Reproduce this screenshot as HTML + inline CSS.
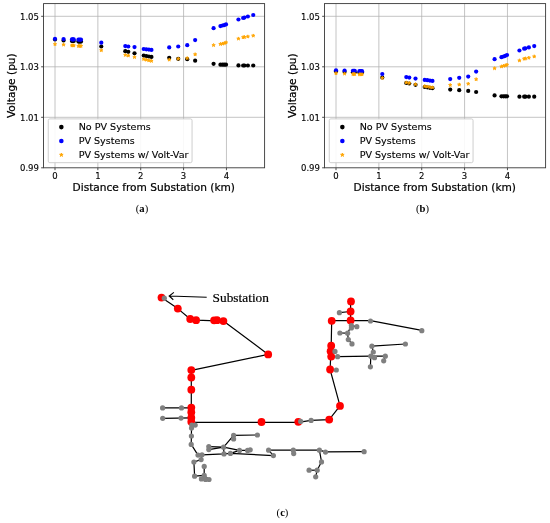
<!DOCTYPE html>
<html><head><meta charset="utf-8"><title>Figure</title>
<style>
html,body{margin:0;padding:0;background:#fff}
svg{display:block}
text{font-family:"DejaVu Sans","Liberation Sans",sans-serif;fill:#000;stroke:#000;stroke-width:0.12px}
.lab{stroke-width:0.22px}
.cap{stroke:none;font-family:"Liberation Serif","DejaVu Serif",serif;font-size:10.6px}
.cap tspan{font-weight:bold}
.sub{font-family:"Liberation Serif","DejaVu Serif",serif;font-size:13.35px;stroke:#000;stroke-width:0.2px}
</style></head><body>
<svg width="550" height="523" viewBox="0 0 550 523">
<rect width="550" height="523" fill="#fff"/>
<g id="plot-a">
<line x1="55.00" y1="3.60" x2="55.00" y2="167.80" stroke="#b0b0b0" stroke-width="0.75"/>
<line x1="97.86" y1="3.60" x2="97.86" y2="167.80" stroke="#b0b0b0" stroke-width="0.75"/>
<line x1="140.72" y1="3.60" x2="140.72" y2="167.80" stroke="#b0b0b0" stroke-width="0.75"/>
<line x1="183.58" y1="3.60" x2="183.58" y2="167.80" stroke="#b0b0b0" stroke-width="0.75"/>
<line x1="226.44" y1="3.60" x2="226.44" y2="167.80" stroke="#b0b0b0" stroke-width="0.75"/>
<line x1="43.55" y1="16.30" x2="264.60" y2="16.30" stroke="#b0b0b0" stroke-width="0.75"/>
<line x1="43.55" y1="66.80" x2="264.60" y2="66.80" stroke="#b0b0b0" stroke-width="0.75"/>
<line x1="43.55" y1="117.30" x2="264.60" y2="117.30" stroke="#b0b0b0" stroke-width="0.75"/>
<circle cx="55.00" cy="39.50" r="2.1" fill="#000"/>
<circle cx="63.57" cy="40.40" r="2.1" fill="#000"/>
<circle cx="71.93" cy="41.00" r="2.1" fill="#000"/>
<circle cx="72.83" cy="41.00" r="2.1" fill="#000"/>
<circle cx="73.73" cy="41.00" r="2.1" fill="#000"/>
<circle cx="78.44" cy="41.60" r="2.1" fill="#000"/>
<circle cx="79.73" cy="41.60" r="2.1" fill="#000"/>
<circle cx="81.02" cy="41.60" r="2.1" fill="#000"/>
<circle cx="101.29" cy="46.50" r="2.1" fill="#000"/>
<circle cx="125.29" cy="51.20" r="2.1" fill="#000"/>
<circle cx="128.29" cy="51.80" r="2.1" fill="#000"/>
<circle cx="134.51" cy="53.30" r="2.1" fill="#000"/>
<circle cx="143.72" cy="55.60" r="2.1" fill="#000"/>
<circle cx="146.29" cy="56.00" r="2.1" fill="#000"/>
<circle cx="148.86" cy="56.50" r="2.1" fill="#000"/>
<circle cx="151.44" cy="56.90" r="2.1" fill="#000"/>
<circle cx="169.22" cy="57.80" r="2.1" fill="#000"/>
<circle cx="178.22" cy="58.80" r="2.1" fill="#000"/>
<circle cx="187.22" cy="59.20" r="2.1" fill="#000"/>
<circle cx="195.15" cy="60.70" r="2.1" fill="#000"/>
<circle cx="213.58" cy="63.80" r="2.1" fill="#000"/>
<circle cx="220.44" cy="64.70" r="2.1" fill="#000"/>
<circle cx="222.58" cy="64.70" r="2.1" fill="#000"/>
<circle cx="224.30" cy="64.70" r="2.1" fill="#000"/>
<circle cx="226.01" cy="64.70" r="2.1" fill="#000"/>
<circle cx="238.44" cy="65.40" r="2.1" fill="#000"/>
<circle cx="243.16" cy="65.50" r="2.1" fill="#000"/>
<circle cx="244.44" cy="65.50" r="2.1" fill="#000"/>
<circle cx="247.87" cy="65.50" r="2.1" fill="#000"/>
<circle cx="253.23" cy="65.50" r="2.1" fill="#000"/>
<circle cx="55.00" cy="38.80" r="2.1" fill="#0000ff"/>
<circle cx="63.57" cy="39.10" r="2.1" fill="#0000ff"/>
<circle cx="71.93" cy="39.40" r="2.1" fill="#0000ff"/>
<circle cx="72.83" cy="39.40" r="2.1" fill="#0000ff"/>
<circle cx="73.73" cy="39.40" r="2.1" fill="#0000ff"/>
<circle cx="78.44" cy="39.70" r="2.1" fill="#0000ff"/>
<circle cx="79.73" cy="39.70" r="2.1" fill="#0000ff"/>
<circle cx="81.02" cy="39.70" r="2.1" fill="#0000ff"/>
<circle cx="101.29" cy="42.70" r="2.1" fill="#0000ff"/>
<circle cx="125.29" cy="46.10" r="2.1" fill="#0000ff"/>
<circle cx="128.29" cy="46.50" r="2.1" fill="#0000ff"/>
<circle cx="134.51" cy="47.10" r="2.1" fill="#0000ff"/>
<circle cx="143.72" cy="49.00" r="2.1" fill="#0000ff"/>
<circle cx="146.29" cy="49.30" r="2.1" fill="#0000ff"/>
<circle cx="148.86" cy="49.60" r="2.1" fill="#0000ff"/>
<circle cx="151.44" cy="49.90" r="2.1" fill="#0000ff"/>
<circle cx="169.22" cy="47.40" r="2.1" fill="#0000ff"/>
<circle cx="178.22" cy="46.50" r="2.1" fill="#0000ff"/>
<circle cx="187.22" cy="45.20" r="2.1" fill="#0000ff"/>
<circle cx="195.15" cy="40.10" r="2.1" fill="#0000ff"/>
<circle cx="213.58" cy="28.20" r="2.1" fill="#0000ff"/>
<circle cx="220.44" cy="26.10" r="2.1" fill="#0000ff"/>
<circle cx="222.58" cy="25.50" r="2.1" fill="#0000ff"/>
<circle cx="224.30" cy="25.10" r="2.1" fill="#0000ff"/>
<circle cx="226.01" cy="24.40" r="2.1" fill="#0000ff"/>
<circle cx="238.44" cy="19.50" r="2.1" fill="#0000ff"/>
<circle cx="243.16" cy="18.00" r="2.1" fill="#0000ff"/>
<circle cx="244.44" cy="17.60" r="2.1" fill="#0000ff"/>
<circle cx="247.87" cy="16.50" r="2.1" fill="#0000ff"/>
<circle cx="253.23" cy="15.00" r="2.1" fill="#0000ff"/>
<polygon points="55.00,42.45 55.39,43.66 56.66,43.66 55.64,44.41 56.03,45.62 55.00,44.87 53.97,45.62 54.36,44.41 53.34,43.66 54.61,43.66" fill="#ffa500" stroke="#ffa500" stroke-width="0.8" stroke-linejoin="round"/>
<polygon points="63.57,42.95 63.96,44.16 65.24,44.16 64.21,44.91 64.60,46.12 63.57,45.37 62.54,46.12 62.94,44.91 61.91,44.16 63.18,44.16" fill="#ffa500" stroke="#ffa500" stroke-width="0.8" stroke-linejoin="round"/>
<polygon points="71.93,43.75 72.32,44.96 73.59,44.96 72.57,45.71 72.96,46.92 71.93,46.17 70.90,46.92 71.29,45.71 70.27,44.96 71.54,44.96" fill="#ffa500" stroke="#ffa500" stroke-width="0.8" stroke-linejoin="round"/>
<polygon points="72.83,43.75 73.22,44.96 74.49,44.96 73.47,45.71 73.86,46.92 72.83,46.17 71.80,46.92 72.19,45.71 71.17,44.96 72.44,44.96" fill="#ffa500" stroke="#ffa500" stroke-width="0.8" stroke-linejoin="round"/>
<polygon points="73.73,43.75 74.12,44.96 75.39,44.96 74.37,45.71 74.76,46.92 73.73,46.17 72.70,46.92 73.09,45.71 72.07,44.96 73.34,44.96" fill="#ffa500" stroke="#ffa500" stroke-width="0.8" stroke-linejoin="round"/>
<polygon points="78.44,44.25 78.84,45.46 80.11,45.46 79.08,46.21 79.47,47.42 78.44,46.67 77.42,47.42 77.81,46.21 76.78,45.46 78.05,45.46" fill="#ffa500" stroke="#ffa500" stroke-width="0.8" stroke-linejoin="round"/>
<polygon points="79.73,44.25 80.12,45.46 81.39,45.46 80.37,46.21 80.76,47.42 79.73,46.67 78.70,47.42 79.09,46.21 78.07,45.46 79.34,45.46" fill="#ffa500" stroke="#ffa500" stroke-width="0.8" stroke-linejoin="round"/>
<polygon points="81.02,44.25 81.41,45.46 82.68,45.46 81.65,46.21 82.04,47.42 81.02,46.67 79.99,47.42 80.38,46.21 79.35,45.46 80.62,45.46" fill="#ffa500" stroke="#ffa500" stroke-width="0.8" stroke-linejoin="round"/>
<polygon points="101.29,48.55 101.68,49.76 102.95,49.76 101.92,50.51 102.32,51.72 101.29,50.97 100.26,51.72 100.65,50.51 99.62,49.76 100.90,49.76" fill="#ffa500" stroke="#ffa500" stroke-width="0.8" stroke-linejoin="round"/>
<polygon points="125.29,53.25 125.68,54.46 126.95,54.46 125.93,55.21 126.32,56.42 125.29,55.67 124.26,56.42 124.65,55.21 123.63,54.46 124.90,54.46" fill="#ffa500" stroke="#ffa500" stroke-width="0.8" stroke-linejoin="round"/>
<polygon points="128.29,53.85 128.68,55.06 129.95,55.06 128.93,55.81 129.32,57.02 128.29,56.27 127.26,57.02 127.65,55.81 126.63,55.06 127.90,55.06" fill="#ffa500" stroke="#ffa500" stroke-width="0.8" stroke-linejoin="round"/>
<polygon points="134.51,55.45 134.90,56.66 136.17,56.66 135.14,57.41 135.53,58.62 134.51,57.87 133.48,58.62 133.87,57.41 132.84,56.66 134.11,56.66" fill="#ffa500" stroke="#ffa500" stroke-width="0.8" stroke-linejoin="round"/>
<polygon points="143.72,57.45 144.11,58.66 145.38,58.66 144.36,59.41 144.75,60.62 143.72,59.87 142.69,60.62 143.08,59.41 142.06,58.66 143.33,58.66" fill="#ffa500" stroke="#ffa500" stroke-width="0.8" stroke-linejoin="round"/>
<polygon points="146.29,58.05 146.68,59.26 147.96,59.26 146.93,60.01 147.32,61.22 146.29,60.47 145.26,61.22 145.66,60.01 144.63,59.26 145.90,59.26" fill="#ffa500" stroke="#ffa500" stroke-width="0.8" stroke-linejoin="round"/>
<polygon points="148.86,58.65 149.26,59.86 150.53,59.86 149.50,60.61 149.89,61.82 148.86,61.07 147.83,61.82 148.23,60.61 147.20,59.86 148.47,59.86" fill="#ffa500" stroke="#ffa500" stroke-width="0.8" stroke-linejoin="round"/>
<polygon points="151.44,59.25 151.83,60.46 153.10,60.46 152.07,61.21 152.46,62.42 151.44,61.67 150.41,62.42 150.80,61.21 149.77,60.46 151.04,60.46" fill="#ffa500" stroke="#ffa500" stroke-width="0.8" stroke-linejoin="round"/>
<polygon points="169.22,57.95 169.61,59.16 170.89,59.16 169.86,59.91 170.25,61.12 169.22,60.37 168.19,61.12 168.59,59.91 167.56,59.16 168.83,59.16" fill="#ffa500" stroke="#ffa500" stroke-width="0.8" stroke-linejoin="round"/>
<polygon points="178.22,57.05 178.62,58.26 179.89,58.26 178.86,59.01 179.25,60.22 178.22,59.47 177.19,60.22 177.59,59.01 176.56,58.26 177.83,58.26" fill="#ffa500" stroke="#ffa500" stroke-width="0.8" stroke-linejoin="round"/>
<polygon points="187.22,56.45 187.62,57.66 188.89,57.66 187.86,58.41 188.25,59.62 187.22,58.87 186.19,59.62 186.59,58.41 185.56,57.66 186.83,57.66" fill="#ffa500" stroke="#ffa500" stroke-width="0.8" stroke-linejoin="round"/>
<polygon points="195.15,52.65 195.55,53.86 196.82,53.86 195.79,54.61 196.18,55.82 195.15,55.07 194.12,55.82 194.52,54.61 193.49,53.86 194.76,53.86" fill="#ffa500" stroke="#ffa500" stroke-width="0.8" stroke-linejoin="round"/>
<polygon points="213.58,43.45 213.97,44.66 215.25,44.66 214.22,45.41 214.61,46.62 213.58,45.87 212.55,46.62 212.95,45.41 211.92,44.66 213.19,44.66" fill="#ffa500" stroke="#ffa500" stroke-width="0.8" stroke-linejoin="round"/>
<polygon points="220.44,42.35 220.83,43.56 222.10,43.56 221.08,44.31 221.47,45.52 220.44,44.77 219.41,45.52 219.80,44.31 218.78,43.56 220.05,43.56" fill="#ffa500" stroke="#ffa500" stroke-width="0.8" stroke-linejoin="round"/>
<polygon points="222.58,41.95 222.98,43.16 224.25,43.16 223.22,43.91 223.61,45.12 222.58,44.37 221.55,45.12 221.95,43.91 220.92,43.16 222.19,43.16" fill="#ffa500" stroke="#ffa500" stroke-width="0.8" stroke-linejoin="round"/>
<polygon points="224.30,41.55 224.69,42.76 225.96,42.76 224.93,43.51 225.33,44.72 224.30,43.97 223.27,44.72 223.66,43.51 222.63,42.76 223.90,42.76" fill="#ffa500" stroke="#ffa500" stroke-width="0.8" stroke-linejoin="round"/>
<polygon points="226.01,40.75 226.40,41.96 227.68,41.96 226.65,42.71 227.04,43.92 226.01,43.17 224.98,43.92 225.38,42.71 224.35,41.96 225.62,41.96" fill="#ffa500" stroke="#ffa500" stroke-width="0.8" stroke-linejoin="round"/>
<polygon points="238.44,36.95 238.83,38.16 240.11,38.16 239.08,38.91 239.47,40.12 238.44,39.37 237.41,40.12 237.81,38.91 236.78,38.16 238.05,38.16" fill="#ffa500" stroke="#ffa500" stroke-width="0.8" stroke-linejoin="round"/>
<polygon points="243.16,35.55 243.55,36.76 244.82,36.76 243.79,37.51 244.18,38.72 243.16,37.97 242.13,38.72 242.52,37.51 241.49,36.76 242.76,36.76" fill="#ffa500" stroke="#ffa500" stroke-width="0.8" stroke-linejoin="round"/>
<polygon points="244.44,35.35 244.83,36.56 246.11,36.56 245.08,37.31 245.47,38.52 244.44,37.77 243.41,38.52 243.81,37.31 242.78,36.56 244.05,36.56" fill="#ffa500" stroke="#ffa500" stroke-width="0.8" stroke-linejoin="round"/>
<polygon points="247.87,34.85 248.26,36.06 249.53,36.06 248.51,36.81 248.90,38.02 247.87,37.27 246.84,38.02 247.23,36.81 246.21,36.06 247.48,36.06" fill="#ffa500" stroke="#ffa500" stroke-width="0.8" stroke-linejoin="round"/>
<polygon points="253.23,33.95 253.62,35.16 254.89,35.16 253.86,35.91 254.26,37.12 253.23,36.37 252.20,37.12 252.59,35.91 251.56,35.16 252.83,35.16" fill="#ffa500" stroke="#ffa500" stroke-width="0.8" stroke-linejoin="round"/>
<line x1="55.00" y1="167.80" x2="55.00" y2="170.20" stroke="#000" stroke-width="0.7"/>
<text x="55.00" y="179.40" text-anchor="middle" font-size="8.5">0</text>
<line x1="97.86" y1="167.80" x2="97.86" y2="170.20" stroke="#000" stroke-width="0.7"/>
<text x="97.86" y="179.40" text-anchor="middle" font-size="8.5">1</text>
<line x1="140.72" y1="167.80" x2="140.72" y2="170.20" stroke="#000" stroke-width="0.7"/>
<text x="140.72" y="179.40" text-anchor="middle" font-size="8.5">2</text>
<line x1="183.58" y1="167.80" x2="183.58" y2="170.20" stroke="#000" stroke-width="0.7"/>
<text x="183.58" y="179.40" text-anchor="middle" font-size="8.5">3</text>
<line x1="226.44" y1="167.80" x2="226.44" y2="170.20" stroke="#000" stroke-width="0.7"/>
<text x="226.44" y="179.40" text-anchor="middle" font-size="8.5">4</text>
<line x1="41.15" y1="16.30" x2="43.55" y2="16.30" stroke="#000" stroke-width="0.7"/>
<text x="38.95" y="19.70" text-anchor="end" font-size="8.5">1.05</text>
<line x1="41.15" y1="66.80" x2="43.55" y2="66.80" stroke="#000" stroke-width="0.7"/>
<text x="38.95" y="70.20" text-anchor="end" font-size="8.5">1.03</text>
<line x1="41.15" y1="117.30" x2="43.55" y2="117.30" stroke="#000" stroke-width="0.7"/>
<text x="38.95" y="120.70" text-anchor="end" font-size="8.5">1.01</text>
<line x1="41.15" y1="167.80" x2="43.55" y2="167.80" stroke="#000" stroke-width="0.7"/>
<text x="38.95" y="171.20" text-anchor="end" font-size="8.5">0.99</text>
<rect x="48.25" y="118.90" width="143.80" height="43.80" rx="1.6" fill="#fff" fill-opacity="0.88" stroke="#c8c8c8" stroke-width="0.9"/>
<circle cx="61.35" cy="127.10" r="2.3" fill="#000"/>
<circle cx="61.35" cy="141.00" r="2.3" fill="#0000ff"/>
<polygon points="61.35,153.00 61.78,154.31 63.16,154.31 62.04,155.12 62.47,156.44 61.35,155.63 60.23,156.44 60.66,155.12 59.54,154.31 60.92,154.31" fill="#ffa500" stroke="#ffa500" stroke-width="0.8" stroke-linejoin="round"/>
<text x="78.65" y="129.60" font-size="9.58">No PV Systems</text>
<text x="78.65" y="143.50" font-size="9.58">PV Systems</text>
<text x="78.65" y="157.60" font-size="9.58">PV Systems w/ Volt-Var</text>
<rect x="43.55" y="3.60" width="221.05" height="164.20" fill="none" stroke="#383838" stroke-width="0.9"/>
<text x="153.78" y="190.90" text-anchor="middle" font-size="10.6" class="lab">Distance from Substation (km)</text>
<text transform="translate(15.45,85.70) rotate(-90)" text-anchor="middle" font-size="10.6" class="lab">Voltage (pu)</text>
</g>
<g id="plot-b">
<line x1="336.00" y1="3.60" x2="336.00" y2="167.80" stroke="#b0b0b0" stroke-width="0.75"/>
<line x1="378.86" y1="3.60" x2="378.86" y2="167.80" stroke="#b0b0b0" stroke-width="0.75"/>
<line x1="421.72" y1="3.60" x2="421.72" y2="167.80" stroke="#b0b0b0" stroke-width="0.75"/>
<line x1="464.58" y1="3.60" x2="464.58" y2="167.80" stroke="#b0b0b0" stroke-width="0.75"/>
<line x1="507.44" y1="3.60" x2="507.44" y2="167.80" stroke="#b0b0b0" stroke-width="0.75"/>
<line x1="324.55" y1="16.30" x2="545.60" y2="16.30" stroke="#b0b0b0" stroke-width="0.75"/>
<line x1="324.55" y1="66.80" x2="545.60" y2="66.80" stroke="#b0b0b0" stroke-width="0.75"/>
<line x1="324.55" y1="117.30" x2="545.60" y2="117.30" stroke="#b0b0b0" stroke-width="0.75"/>
<circle cx="336.00" cy="71.50" r="2.1" fill="#000"/>
<circle cx="344.57" cy="71.80" r="2.1" fill="#000"/>
<circle cx="352.93" cy="72.20" r="2.1" fill="#000"/>
<circle cx="353.83" cy="72.20" r="2.1" fill="#000"/>
<circle cx="354.73" cy="72.20" r="2.1" fill="#000"/>
<circle cx="359.44" cy="72.60" r="2.1" fill="#000"/>
<circle cx="360.73" cy="72.60" r="2.1" fill="#000"/>
<circle cx="362.02" cy="72.60" r="2.1" fill="#000"/>
<circle cx="382.29" cy="77.50" r="2.1" fill="#000"/>
<circle cx="406.29" cy="83.00" r="2.1" fill="#000"/>
<circle cx="409.29" cy="83.50" r="2.1" fill="#000"/>
<circle cx="415.51" cy="84.80" r="2.1" fill="#000"/>
<circle cx="424.72" cy="86.90" r="2.1" fill="#000"/>
<circle cx="427.29" cy="87.30" r="2.1" fill="#000"/>
<circle cx="429.86" cy="87.80" r="2.1" fill="#000"/>
<circle cx="432.44" cy="88.20" r="2.1" fill="#000"/>
<circle cx="450.22" cy="89.60" r="2.1" fill="#000"/>
<circle cx="459.22" cy="90.20" r="2.1" fill="#000"/>
<circle cx="468.22" cy="90.90" r="2.1" fill="#000"/>
<circle cx="476.15" cy="92.00" r="2.1" fill="#000"/>
<circle cx="494.58" cy="95.40" r="2.1" fill="#000"/>
<circle cx="501.44" cy="96.30" r="2.1" fill="#000"/>
<circle cx="503.58" cy="96.30" r="2.1" fill="#000"/>
<circle cx="505.30" cy="96.30" r="2.1" fill="#000"/>
<circle cx="507.01" cy="96.30" r="2.1" fill="#000"/>
<circle cx="519.44" cy="96.70" r="2.1" fill="#000"/>
<circle cx="524.16" cy="96.70" r="2.1" fill="#000"/>
<circle cx="525.44" cy="96.70" r="2.1" fill="#000"/>
<circle cx="528.87" cy="96.70" r="2.1" fill="#000"/>
<circle cx="534.23" cy="96.70" r="2.1" fill="#000"/>
<circle cx="336.00" cy="70.30" r="2.1" fill="#0000ff"/>
<circle cx="344.57" cy="70.50" r="2.1" fill="#0000ff"/>
<circle cx="352.93" cy="70.80" r="2.1" fill="#0000ff"/>
<circle cx="353.83" cy="70.80" r="2.1" fill="#0000ff"/>
<circle cx="354.73" cy="70.80" r="2.1" fill="#0000ff"/>
<circle cx="359.44" cy="71.20" r="2.1" fill="#0000ff"/>
<circle cx="360.73" cy="71.20" r="2.1" fill="#0000ff"/>
<circle cx="362.02" cy="71.20" r="2.1" fill="#0000ff"/>
<circle cx="382.29" cy="74.00" r="2.1" fill="#0000ff"/>
<circle cx="406.29" cy="77.10" r="2.1" fill="#0000ff"/>
<circle cx="409.29" cy="77.60" r="2.1" fill="#0000ff"/>
<circle cx="415.51" cy="78.60" r="2.1" fill="#0000ff"/>
<circle cx="424.72" cy="79.90" r="2.1" fill="#0000ff"/>
<circle cx="427.29" cy="80.20" r="2.1" fill="#0000ff"/>
<circle cx="429.86" cy="80.60" r="2.1" fill="#0000ff"/>
<circle cx="432.44" cy="80.90" r="2.1" fill="#0000ff"/>
<circle cx="450.22" cy="79.10" r="2.1" fill="#0000ff"/>
<circle cx="459.22" cy="77.80" r="2.1" fill="#0000ff"/>
<circle cx="468.22" cy="76.60" r="2.1" fill="#0000ff"/>
<circle cx="476.15" cy="71.60" r="2.1" fill="#0000ff"/>
<circle cx="494.58" cy="59.20" r="2.1" fill="#0000ff"/>
<circle cx="501.44" cy="57.20" r="2.1" fill="#0000ff"/>
<circle cx="503.58" cy="56.50" r="2.1" fill="#0000ff"/>
<circle cx="505.30" cy="55.80" r="2.1" fill="#0000ff"/>
<circle cx="507.01" cy="55.00" r="2.1" fill="#0000ff"/>
<circle cx="519.44" cy="50.50" r="2.1" fill="#0000ff"/>
<circle cx="524.16" cy="48.70" r="2.1" fill="#0000ff"/>
<circle cx="525.44" cy="48.30" r="2.1" fill="#0000ff"/>
<circle cx="528.87" cy="47.40" r="2.1" fill="#0000ff"/>
<circle cx="534.23" cy="46.10" r="2.1" fill="#0000ff"/>
<polygon points="336.00,71.55 336.39,72.76 337.66,72.76 336.64,73.51 337.03,74.72 336.00,73.97 334.97,74.72 335.36,73.51 334.34,72.76 335.61,72.76" fill="#ffa500" stroke="#ffa500" stroke-width="0.8" stroke-linejoin="round"/>
<polygon points="344.57,71.95 344.96,73.16 346.24,73.16 345.21,73.91 345.60,75.12 344.57,74.37 343.54,75.12 343.94,73.91 342.91,73.16 344.18,73.16" fill="#ffa500" stroke="#ffa500" stroke-width="0.8" stroke-linejoin="round"/>
<polygon points="352.93,72.35 353.32,73.56 354.59,73.56 353.57,74.31 353.96,75.52 352.93,74.77 351.90,75.52 352.29,74.31 351.27,73.56 352.54,73.56" fill="#ffa500" stroke="#ffa500" stroke-width="0.8" stroke-linejoin="round"/>
<polygon points="353.83,72.35 354.22,73.56 355.49,73.56 354.47,74.31 354.86,75.52 353.83,74.77 352.80,75.52 353.19,74.31 352.17,73.56 353.44,73.56" fill="#ffa500" stroke="#ffa500" stroke-width="0.8" stroke-linejoin="round"/>
<polygon points="354.73,72.35 355.12,73.56 356.39,73.56 355.37,74.31 355.76,75.52 354.73,74.77 353.70,75.52 354.09,74.31 353.07,73.56 354.34,73.56" fill="#ffa500" stroke="#ffa500" stroke-width="0.8" stroke-linejoin="round"/>
<polygon points="359.44,72.65 359.84,73.86 361.11,73.86 360.08,74.61 360.47,75.82 359.44,75.07 358.42,75.82 358.81,74.61 357.78,73.86 359.05,73.86" fill="#ffa500" stroke="#ffa500" stroke-width="0.8" stroke-linejoin="round"/>
<polygon points="360.73,72.65 361.12,73.86 362.39,73.86 361.37,74.61 361.76,75.82 360.73,75.07 359.70,75.82 360.09,74.61 359.07,73.86 360.34,73.86" fill="#ffa500" stroke="#ffa500" stroke-width="0.8" stroke-linejoin="round"/>
<polygon points="362.02,72.65 362.41,73.86 363.68,73.86 362.65,74.61 363.04,75.82 362.02,75.07 360.99,75.82 361.38,74.61 360.35,73.86 361.62,73.86" fill="#ffa500" stroke="#ffa500" stroke-width="0.8" stroke-linejoin="round"/>
<polygon points="382.29,76.25 382.68,77.46 383.95,77.46 382.92,78.21 383.32,79.42 382.29,78.67 381.26,79.42 381.65,78.21 380.62,77.46 381.90,77.46" fill="#ffa500" stroke="#ffa500" stroke-width="0.8" stroke-linejoin="round"/>
<polygon points="406.29,80.85 406.68,82.06 407.95,82.06 406.93,82.81 407.32,84.02 406.29,83.27 405.26,84.02 405.65,82.81 404.63,82.06 405.90,82.06" fill="#ffa500" stroke="#ffa500" stroke-width="0.8" stroke-linejoin="round"/>
<polygon points="409.29,81.35 409.68,82.56 410.95,82.56 409.93,83.31 410.32,84.52 409.29,83.77 408.26,84.52 408.65,83.31 407.63,82.56 408.90,82.56" fill="#ffa500" stroke="#ffa500" stroke-width="0.8" stroke-linejoin="round"/>
<polygon points="415.51,82.65 415.90,83.86 417.17,83.86 416.14,84.61 416.53,85.82 415.51,85.07 414.48,85.82 414.87,84.61 413.84,83.86 415.11,83.86" fill="#ffa500" stroke="#ffa500" stroke-width="0.8" stroke-linejoin="round"/>
<polygon points="424.72,84.55 425.11,85.76 426.38,85.76 425.36,86.51 425.75,87.72 424.72,86.97 423.69,87.72 424.08,86.51 423.06,85.76 424.33,85.76" fill="#ffa500" stroke="#ffa500" stroke-width="0.8" stroke-linejoin="round"/>
<polygon points="427.29,84.95 427.68,86.16 428.96,86.16 427.93,86.91 428.32,88.12 427.29,87.37 426.26,88.12 426.66,86.91 425.63,86.16 426.90,86.16" fill="#ffa500" stroke="#ffa500" stroke-width="0.8" stroke-linejoin="round"/>
<polygon points="429.86,85.35 430.26,86.56 431.53,86.56 430.50,87.31 430.89,88.52 429.86,87.77 428.83,88.52 429.23,87.31 428.20,86.56 429.47,86.56" fill="#ffa500" stroke="#ffa500" stroke-width="0.8" stroke-linejoin="round"/>
<polygon points="432.44,85.75 432.83,86.96 434.10,86.96 433.07,87.71 433.46,88.92 432.44,88.17 431.41,88.92 431.80,87.71 430.77,86.96 432.04,86.96" fill="#ffa500" stroke="#ffa500" stroke-width="0.8" stroke-linejoin="round"/>
<polygon points="450.22,83.35 450.61,84.56 451.89,84.56 450.86,85.31 451.25,86.52 450.22,85.77 449.19,86.52 449.59,85.31 448.56,84.56 449.83,84.56" fill="#ffa500" stroke="#ffa500" stroke-width="0.8" stroke-linejoin="round"/>
<polygon points="459.22,82.85 459.62,84.06 460.89,84.06 459.86,84.81 460.25,86.02 459.22,85.27 458.19,86.02 458.59,84.81 457.56,84.06 458.83,84.06" fill="#ffa500" stroke="#ffa500" stroke-width="0.8" stroke-linejoin="round"/>
<polygon points="468.22,82.05 468.62,83.26 469.89,83.26 468.86,84.01 469.25,85.22 468.22,84.47 467.19,85.22 467.59,84.01 466.56,83.26 467.83,83.26" fill="#ffa500" stroke="#ffa500" stroke-width="0.8" stroke-linejoin="round"/>
<polygon points="476.15,77.55 476.55,78.76 477.82,78.76 476.79,79.51 477.18,80.72 476.15,79.97 475.12,80.72 475.52,79.51 474.49,78.76 475.76,78.76" fill="#ffa500" stroke="#ffa500" stroke-width="0.8" stroke-linejoin="round"/>
<polygon points="494.58,66.65 494.97,67.86 496.25,67.86 495.22,68.61 495.61,69.82 494.58,69.07 493.55,69.82 493.95,68.61 492.92,67.86 494.19,67.86" fill="#ffa500" stroke="#ffa500" stroke-width="0.8" stroke-linejoin="round"/>
<polygon points="501.44,64.75 501.83,65.96 503.10,65.96 502.08,66.71 502.47,67.92 501.44,67.17 500.41,67.92 500.80,66.71 499.78,65.96 501.05,65.96" fill="#ffa500" stroke="#ffa500" stroke-width="0.8" stroke-linejoin="round"/>
<polygon points="503.58,64.15 503.98,65.36 505.25,65.36 504.22,66.11 504.61,67.32 503.58,66.57 502.55,67.32 502.95,66.11 501.92,65.36 503.19,65.36" fill="#ffa500" stroke="#ffa500" stroke-width="0.8" stroke-linejoin="round"/>
<polygon points="505.30,63.75 505.69,64.96 506.96,64.96 505.93,65.71 506.33,66.92 505.30,66.17 504.27,66.92 504.66,65.71 503.63,64.96 504.90,64.96" fill="#ffa500" stroke="#ffa500" stroke-width="0.8" stroke-linejoin="round"/>
<polygon points="507.01,63.05 507.40,64.26 508.68,64.26 507.65,65.01 508.04,66.22 507.01,65.47 505.98,66.22 506.38,65.01 505.35,64.26 506.62,64.26" fill="#ffa500" stroke="#ffa500" stroke-width="0.8" stroke-linejoin="round"/>
<polygon points="519.44,58.75 519.83,59.96 521.11,59.96 520.08,60.71 520.47,61.92 519.44,61.17 518.41,61.92 518.81,60.71 517.78,59.96 519.05,59.96" fill="#ffa500" stroke="#ffa500" stroke-width="0.8" stroke-linejoin="round"/>
<polygon points="524.16,57.05 524.55,58.26 525.82,58.26 524.79,59.01 525.18,60.22 524.16,59.47 523.13,60.22 523.52,59.01 522.49,58.26 523.76,58.26" fill="#ffa500" stroke="#ffa500" stroke-width="0.8" stroke-linejoin="round"/>
<polygon points="525.44,56.75 525.83,57.96 527.11,57.96 526.08,58.71 526.47,59.92 525.44,59.17 524.41,59.92 524.81,58.71 523.78,57.96 525.05,57.96" fill="#ffa500" stroke="#ffa500" stroke-width="0.8" stroke-linejoin="round"/>
<polygon points="528.87,56.05 529.26,57.26 530.53,57.26 529.51,58.01 529.90,59.22 528.87,58.47 527.84,59.22 528.23,58.01 527.21,57.26 528.48,57.26" fill="#ffa500" stroke="#ffa500" stroke-width="0.8" stroke-linejoin="round"/>
<polygon points="534.23,54.75 534.62,55.96 535.89,55.96 534.86,56.71 535.26,57.92 534.23,57.17 533.20,57.92 533.59,56.71 532.56,55.96 533.83,55.96" fill="#ffa500" stroke="#ffa500" stroke-width="0.8" stroke-linejoin="round"/>
<line x1="336.00" y1="167.80" x2="336.00" y2="170.20" stroke="#000" stroke-width="0.7"/>
<text x="336.00" y="179.40" text-anchor="middle" font-size="8.5">0</text>
<line x1="378.86" y1="167.80" x2="378.86" y2="170.20" stroke="#000" stroke-width="0.7"/>
<text x="378.86" y="179.40" text-anchor="middle" font-size="8.5">1</text>
<line x1="421.72" y1="167.80" x2="421.72" y2="170.20" stroke="#000" stroke-width="0.7"/>
<text x="421.72" y="179.40" text-anchor="middle" font-size="8.5">2</text>
<line x1="464.58" y1="167.80" x2="464.58" y2="170.20" stroke="#000" stroke-width="0.7"/>
<text x="464.58" y="179.40" text-anchor="middle" font-size="8.5">3</text>
<line x1="507.44" y1="167.80" x2="507.44" y2="170.20" stroke="#000" stroke-width="0.7"/>
<text x="507.44" y="179.40" text-anchor="middle" font-size="8.5">4</text>
<line x1="322.15" y1="16.30" x2="324.55" y2="16.30" stroke="#000" stroke-width="0.7"/>
<text x="319.95" y="19.70" text-anchor="end" font-size="8.5">1.05</text>
<line x1="322.15" y1="66.80" x2="324.55" y2="66.80" stroke="#000" stroke-width="0.7"/>
<text x="319.95" y="70.20" text-anchor="end" font-size="8.5">1.03</text>
<line x1="322.15" y1="117.30" x2="324.55" y2="117.30" stroke="#000" stroke-width="0.7"/>
<text x="319.95" y="120.70" text-anchor="end" font-size="8.5">1.01</text>
<line x1="322.15" y1="167.80" x2="324.55" y2="167.80" stroke="#000" stroke-width="0.7"/>
<text x="319.95" y="171.20" text-anchor="end" font-size="8.5">0.99</text>
<rect x="329.25" y="118.90" width="143.80" height="43.80" rx="1.6" fill="#fff" fill-opacity="0.88" stroke="#c8c8c8" stroke-width="0.9"/>
<circle cx="342.35" cy="127.10" r="2.3" fill="#000"/>
<circle cx="342.35" cy="141.00" r="2.3" fill="#0000ff"/>
<polygon points="342.35,153.00 342.78,154.31 344.16,154.31 343.04,155.12 343.47,156.44 342.35,155.63 341.23,156.44 341.66,155.12 340.54,154.31 341.92,154.31" fill="#ffa500" stroke="#ffa500" stroke-width="0.8" stroke-linejoin="round"/>
<text x="359.65" y="129.60" font-size="9.58">No PV Systems</text>
<text x="359.65" y="143.50" font-size="9.58">PV Systems</text>
<text x="359.65" y="157.60" font-size="9.58">PV Systems w/ Volt-Var</text>
<rect x="324.55" y="3.60" width="221.05" height="164.20" fill="none" stroke="#383838" stroke-width="0.9"/>
<text x="434.78" y="190.90" text-anchor="middle" font-size="10.6" class="lab">Distance from Substation (km)</text>
<text transform="translate(296.45,85.70) rotate(-90)" text-anchor="middle" font-size="10.6" class="lab">Voltage (pu)</text>
</g>
<g id="network" transform="translate(0,0.4)">
<polyline points="164.3,297.8 161.5,297.2 177.8,308.2 190.2,318.6 196.1,319.8 223.4,320.7 268.2,354.0 191.3,370.0 191.3,422.0 298.2,421.9 311.1,420.0 329.2,419.2 340.0,405.5 330.1,369.1 331.2,345.3 331.7,320.2 350.6,320.2 370.5,320.2 421.8,330.0" fill="none" stroke="#000" stroke-width="1.2" stroke-linejoin="round"/>
<polyline points="162.6,407.5 191.3,407.4" fill="none" stroke="#000" stroke-width="1.2" stroke-linejoin="round"/>
<polyline points="162.7,417.9 191.3,417.5" fill="none" stroke="#000" stroke-width="1.2" stroke-linejoin="round"/>
<polyline points="191.3,422.0 195.2,424.7" fill="none" stroke="#000" stroke-width="1.2" stroke-linejoin="round"/>
<polyline points="191.3,422.0 191.5,427.7 191.4,435.6 191.2,444.0 198.0,454.7 202.0,454.4 224.0,453.5 230.4,453.0 273.4,455.2" fill="none" stroke="#000" stroke-width="1.2" stroke-linejoin="round"/>
<polyline points="202.0,454.4 201.1,459.2 193.9,461.6 194.6,475.8 204.2,475.0" fill="none" stroke="#000" stroke-width="1.2" stroke-linejoin="round"/>
<polyline points="204.2,466.0 204.2,475.0 209.0,479.1" fill="none" stroke="#000" stroke-width="1.2" stroke-linejoin="round"/>
<polyline points="204.2,475.0 201.4,478.5" fill="none" stroke="#000" stroke-width="1.2" stroke-linejoin="round"/>
<polyline points="204.2,475.0 205.5,479.0" fill="none" stroke="#000" stroke-width="1.2" stroke-linejoin="round"/>
<polyline points="208.8,446.2 223.6,446.8" fill="none" stroke="#000" stroke-width="1.2" stroke-linejoin="round"/>
<polyline points="208.8,449.2 223.6,446.8" fill="none" stroke="#000" stroke-width="1.2" stroke-linejoin="round"/>
<polyline points="224.0,453.5 223.6,446.8 233.6,435.0 257.4,434.6" fill="none" stroke="#000" stroke-width="1.2" stroke-linejoin="round"/>
<polyline points="233.6,435.0 233.6,438.6" fill="none" stroke="#000" stroke-width="1.2" stroke-linejoin="round"/>
<polyline points="223.6,446.8 239.5,450.0 247.6,450.0 250.2,449.4" fill="none" stroke="#000" stroke-width="1.2" stroke-linejoin="round"/>
<polyline points="230.4,453.0 239.5,450.0" fill="none" stroke="#000" stroke-width="1.2" stroke-linejoin="round"/>
<polyline points="273.4,455.2 268.6,449.8 293.3,449.8 319.4,449.8 325.5,451.5 364.1,451.3" fill="none" stroke="#000" stroke-width="1.2" stroke-linejoin="round"/>
<polyline points="293.3,449.8 293.7,453.2" fill="none" stroke="#000" stroke-width="1.2" stroke-linejoin="round"/>
<polyline points="319.4,449.8 321.5,461.3 317.2,469.8 315.7,476.4" fill="none" stroke="#000" stroke-width="1.2" stroke-linejoin="round"/>
<polyline points="317.2,469.8 309.1,469.8" fill="none" stroke="#000" stroke-width="1.2" stroke-linejoin="round"/>
<polyline points="330.1,369.1 336.3,369.6" fill="none" stroke="#000" stroke-width="1.2" stroke-linejoin="round"/>
<polyline points="330.6,350.8 335.0,351.0" fill="none" stroke="#000" stroke-width="1.2" stroke-linejoin="round"/>
<polyline points="331.2,356.2 337.6,356.3 370.8,355.8 385.3,355.8 383.7,360.4" fill="none" stroke="#000" stroke-width="1.2" stroke-linejoin="round"/>
<polyline points="350.6,311.1 339.4,312.3" fill="none" stroke="#000" stroke-width="1.2" stroke-linejoin="round"/>
<polyline points="350.6,301.0 350.6,320.1 351.4,325.2 347.6,332.8 348.3,339.2 352.0,343.5" fill="none" stroke="#000" stroke-width="1.2" stroke-linejoin="round"/>
<polyline points="351.4,325.2 356.8,326.3" fill="none" stroke="#000" stroke-width="1.2" stroke-linejoin="round"/>
<polyline points="347.6,332.8 339.9,332.6" fill="none" stroke="#000" stroke-width="1.2" stroke-linejoin="round"/>
<polyline points="405.4,343.6 371.9,345.8 373.3,351.6 370.8,355.8 370.4,366.4" fill="none" stroke="#000" stroke-width="1.2" stroke-linejoin="round"/>
<polyline points="370.8,355.8 374.5,357.3" fill="none" stroke="#000" stroke-width="1.2" stroke-linejoin="round"/>
<circle cx="161.5" cy="297.2" r="3.9" fill="#ff0000"/>
<circle cx="177.8" cy="308.2" r="3.9" fill="#ff0000"/>
<circle cx="190.2" cy="318.6" r="3.9" fill="#ff0000"/>
<circle cx="196.1" cy="319.8" r="3.9" fill="#ff0000"/>
<circle cx="214.1" cy="319.9" r="3.9" fill="#ff0000"/>
<circle cx="217.0" cy="319.8" r="3.9" fill="#ff0000"/>
<circle cx="223.4" cy="320.7" r="3.9" fill="#ff0000"/>
<circle cx="268.2" cy="354.0" r="3.9" fill="#ff0000"/>
<circle cx="191.3" cy="369.7" r="3.9" fill="#ff0000"/>
<circle cx="191.3" cy="377.1" r="3.9" fill="#ff0000"/>
<circle cx="191.3" cy="389.3" r="3.9" fill="#ff0000"/>
<circle cx="191.3" cy="407.2" r="3.9" fill="#ff0000"/>
<circle cx="191.3" cy="411.8" r="3.9" fill="#ff0000"/>
<circle cx="191.3" cy="417.3" r="3.9" fill="#ff0000"/>
<circle cx="191.3" cy="421.4" r="3.9" fill="#ff0000"/>
<circle cx="261.5" cy="421.6" r="3.9" fill="#ff0000"/>
<circle cx="298.3" cy="421.4" r="3.9" fill="#ff0000"/>
<circle cx="329.2" cy="419.2" r="3.9" fill="#ff0000"/>
<circle cx="340.0" cy="405.5" r="3.9" fill="#ff0000"/>
<circle cx="330.1" cy="369.1" r="3.9" fill="#ff0000"/>
<circle cx="331.2" cy="356.2" r="3.9" fill="#ff0000"/>
<circle cx="330.6" cy="350.8" r="3.9" fill="#ff0000"/>
<circle cx="331.2" cy="345.3" r="3.9" fill="#ff0000"/>
<circle cx="331.7" cy="320.4" r="3.9" fill="#ff0000"/>
<circle cx="350.6" cy="320.1" r="3.9" fill="#ff0000"/>
<circle cx="350.6" cy="311.1" r="3.9" fill="#ff0000"/>
<circle cx="351.0" cy="301.0" r="3.9" fill="#ff0000"/>
<circle cx="164.3" cy="297.8" r="2.6" fill="#808080"/>
<circle cx="162.6" cy="407.5" r="2.6" fill="#808080"/>
<circle cx="181.5" cy="407.5" r="2.6" fill="#808080"/>
<circle cx="162.7" cy="417.9" r="2.6" fill="#808080"/>
<circle cx="181.0" cy="417.7" r="2.6" fill="#808080"/>
<circle cx="191.8" cy="424.6" r="2.6" fill="#808080"/>
<circle cx="195.2" cy="424.7" r="2.6" fill="#808080"/>
<circle cx="191.5" cy="427.7" r="2.6" fill="#808080"/>
<circle cx="191.4" cy="435.6" r="2.6" fill="#808080"/>
<circle cx="191.2" cy="444.0" r="2.6" fill="#808080"/>
<circle cx="198.0" cy="454.7" r="2.6" fill="#808080"/>
<circle cx="202.0" cy="454.4" r="2.6" fill="#808080"/>
<circle cx="201.1" cy="459.2" r="2.6" fill="#808080"/>
<circle cx="193.9" cy="461.6" r="2.6" fill="#808080"/>
<circle cx="194.6" cy="475.8" r="2.6" fill="#808080"/>
<circle cx="204.2" cy="466.0" r="2.6" fill="#808080"/>
<circle cx="204.2" cy="475.0" r="2.6" fill="#808080"/>
<circle cx="201.4" cy="478.5" r="2.6" fill="#808080"/>
<circle cx="205.5" cy="479.0" r="2.6" fill="#808080"/>
<circle cx="209.0" cy="479.1" r="2.6" fill="#808080"/>
<circle cx="208.8" cy="446.2" r="2.6" fill="#808080"/>
<circle cx="208.8" cy="449.2" r="2.6" fill="#808080"/>
<circle cx="223.6" cy="446.8" r="2.6" fill="#808080"/>
<circle cx="224.0" cy="453.5" r="2.6" fill="#808080"/>
<circle cx="230.4" cy="453.0" r="2.6" fill="#808080"/>
<circle cx="233.6" cy="435.0" r="2.6" fill="#808080"/>
<circle cx="233.6" cy="438.6" r="2.6" fill="#808080"/>
<circle cx="257.4" cy="434.6" r="2.6" fill="#808080"/>
<circle cx="239.5" cy="450.0" r="2.6" fill="#808080"/>
<circle cx="247.6" cy="450.0" r="2.6" fill="#808080"/>
<circle cx="250.2" cy="449.4" r="2.6" fill="#808080"/>
<circle cx="268.6" cy="449.8" r="2.6" fill="#808080"/>
<circle cx="273.4" cy="455.2" r="2.6" fill="#808080"/>
<circle cx="293.3" cy="449.8" r="2.6" fill="#808080"/>
<circle cx="293.7" cy="453.2" r="2.6" fill="#808080"/>
<circle cx="319.4" cy="449.8" r="2.6" fill="#808080"/>
<circle cx="325.5" cy="451.7" r="2.6" fill="#808080"/>
<circle cx="364.1" cy="451.3" r="2.6" fill="#808080"/>
<circle cx="321.5" cy="461.5" r="2.6" fill="#808080"/>
<circle cx="317.2" cy="469.8" r="2.6" fill="#808080"/>
<circle cx="309.1" cy="469.8" r="2.6" fill="#808080"/>
<circle cx="315.7" cy="476.4" r="2.6" fill="#808080"/>
<circle cx="300.7" cy="421.0" r="2.6" fill="#808080"/>
<circle cx="311.1" cy="420.0" r="2.6" fill="#808080"/>
<circle cx="336.3" cy="369.6" r="2.6" fill="#808080"/>
<circle cx="335.0" cy="351.0" r="2.6" fill="#808080"/>
<circle cx="337.6" cy="356.3" r="2.6" fill="#808080"/>
<circle cx="339.4" cy="312.3" r="2.6" fill="#808080"/>
<circle cx="370.5" cy="320.6" r="2.6" fill="#808080"/>
<circle cx="421.8" cy="330.3" r="2.6" fill="#808080"/>
<circle cx="351.4" cy="325.2" r="2.6" fill="#808080"/>
<circle cx="351.4" cy="327.6" r="2.6" fill="#808080"/>
<circle cx="356.8" cy="326.3" r="2.6" fill="#808080"/>
<circle cx="347.6" cy="332.8" r="2.6" fill="#808080"/>
<circle cx="339.9" cy="332.6" r="2.6" fill="#808080"/>
<circle cx="348.3" cy="339.2" r="2.6" fill="#808080"/>
<circle cx="352.0" cy="343.5" r="2.6" fill="#808080"/>
<circle cx="371.9" cy="345.8" r="2.6" fill="#808080"/>
<circle cx="405.4" cy="343.6" r="2.6" fill="#808080"/>
<circle cx="373.3" cy="351.6" r="2.6" fill="#808080"/>
<circle cx="370.8" cy="355.8" r="2.6" fill="#808080"/>
<circle cx="374.5" cy="357.3" r="2.6" fill="#808080"/>
<circle cx="385.3" cy="355.8" r="2.6" fill="#808080"/>
<circle cx="383.7" cy="360.4" r="2.6" fill="#808080"/>
<circle cx="370.4" cy="366.4" r="2.6" fill="#808080"/>
<path d="M206.7 296.8 L169.2 295.6 M173.9 292.0 L169.2 295.6 L173.3 299.3" fill="none" stroke="#000" stroke-width="1.15"/>
<text class="sub" transform="translate(212.6,301.3) scale(1,0.96)">Substation</text>
</g>
<text class="cap" x="142" y="211.6" text-anchor="middle">(<tspan>a</tspan>)</text>
<text class="cap" x="422.5" y="211.7" text-anchor="middle">(<tspan>b</tspan>)</text>
<text class="cap" x="282.5" y="515.6" text-anchor="middle">(<tspan>c</tspan>)</text>
</svg>
</body></html>
